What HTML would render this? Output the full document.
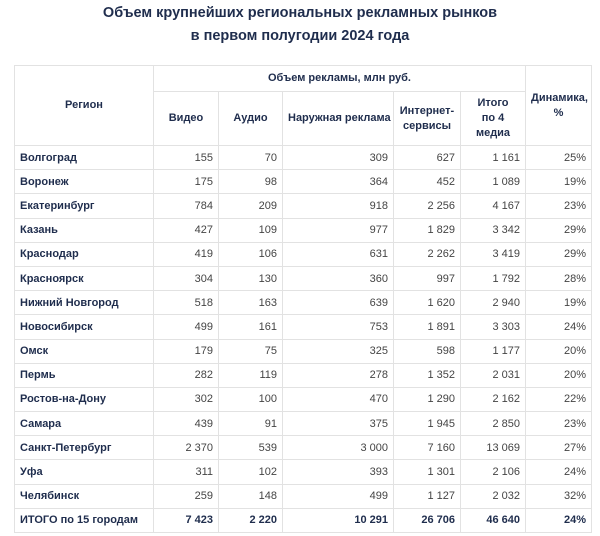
<!DOCTYPE html>
<html><head><meta charset="utf-8"><style>
body{margin:0;width:600px;height:536px;background:#fff;font-family:"Liberation Sans",sans-serif;overflow:hidden}
h1{margin:0;position:absolute;top:2px;left:0;width:600px;text-align:center;font-size:14.5px;line-height:23px;color:#1f2d4d;font-weight:bold}
table{position:absolute;left:14px;top:65px;border-collapse:collapse;table-layout:fixed;width:577px;font-size:11px;color:#333}
td,th{border:1px solid #e2e2e2;padding:0 5px;height:23.2px;white-space:nowrap;overflow:hidden}
th{font-weight:bold;color:#1f2d4d;text-align:center;line-height:15px}
td{text-align:right;color:#444}
td:first-child{text-align:left;font-weight:bold;color:#1f2d4d}
tr.t td{font-weight:bold;color:#1f2d4d}
</style></head><body>
<h1>Объем крупнейших региональных рекламных рынков<br>в первом полугодии 2024 года</h1>
<table>
<colgroup><col style="width:139px"><col style="width:65px"><col style="width:64px"><col style="width:111px"><col style="width:67px"><col style="width:65px"><col style="width:66px"></colgroup>
<tr><th rowspan="2">Регион</th><th colspan="5" style="height:25px">Объем рекламы, млн руб.</th><th rowspan="2">Динамика,<br>%</th></tr>
<tr><th style="height:53px">Видео</th><th>Аудио</th><th>Наружная реклама</th><th>Интернет-<br>сервисы</th><th>Итого<br>по 4<br>медиа</th></tr>
<tr><td>Волгоград</td><td>155</td><td>70</td><td>309</td><td>627</td><td>1 161</td><td>25%</td></tr>
<tr><td>Воронеж</td><td>175</td><td>98</td><td>364</td><td>452</td><td>1 089</td><td>19%</td></tr>
<tr><td>Екатеринбург</td><td>784</td><td>209</td><td>918</td><td>2 256</td><td>4 167</td><td>23%</td></tr>
<tr><td>Казань</td><td>427</td><td>109</td><td>977</td><td>1 829</td><td>3 342</td><td>29%</td></tr>
<tr><td>Краснодар</td><td>419</td><td>106</td><td>631</td><td>2 262</td><td>3 419</td><td>29%</td></tr>
<tr><td>Красноярск</td><td>304</td><td>130</td><td>360</td><td>997</td><td>1 792</td><td>28%</td></tr>
<tr><td>Нижний Новгород</td><td>518</td><td>163</td><td>639</td><td>1 620</td><td>2 940</td><td>19%</td></tr>
<tr><td>Новосибирск</td><td>499</td><td>161</td><td>753</td><td>1 891</td><td>3 303</td><td>24%</td></tr>
<tr><td>Омск</td><td>179</td><td>75</td><td>325</td><td>598</td><td>1 177</td><td>20%</td></tr>
<tr><td>Пермь</td><td>282</td><td>119</td><td>278</td><td>1 352</td><td>2 031</td><td>20%</td></tr>
<tr><td>Ростов-на-Дону</td><td>302</td><td>100</td><td>470</td><td>1 290</td><td>2 162</td><td>22%</td></tr>
<tr><td>Самара</td><td>439</td><td>91</td><td>375</td><td>1 945</td><td>2 850</td><td>23%</td></tr>
<tr><td>Санкт-Петербург</td><td>2 370</td><td>539</td><td>3 000</td><td>7 160</td><td>13 069</td><td>27%</td></tr>
<tr><td>Уфа</td><td>311</td><td>102</td><td>393</td><td>1 301</td><td>2 106</td><td>24%</td></tr>
<tr><td>Челябинск</td><td>259</td><td>148</td><td>499</td><td>1 127</td><td>2 032</td><td>32%</td></tr>
<tr class="t"><td>ИТОГО по 15 городам</td><td>7 423</td><td>2 220</td><td>10 291</td><td>26 706</td><td>46 640</td><td>24%</td></tr>
</table>
</body></html>
